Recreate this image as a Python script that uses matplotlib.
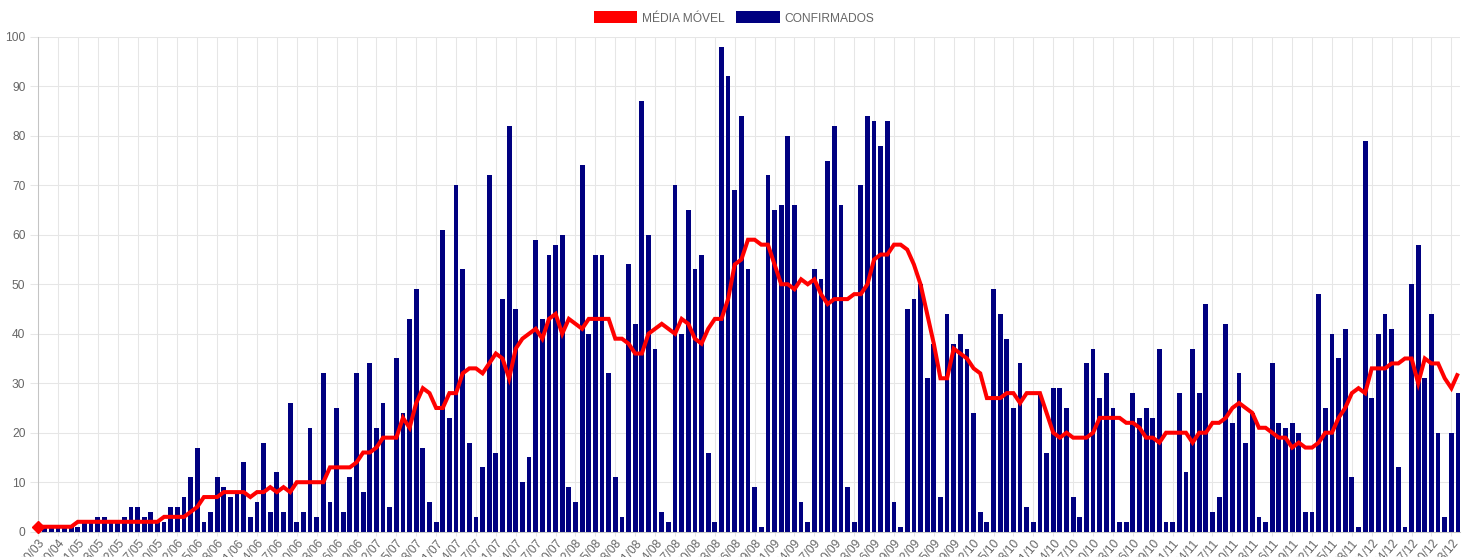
import matplotlib

matplotlib.use("Agg")
import matplotlib.pyplot as plt
from matplotlib.patches import Patch

# confirmed cases per day (one value per category, left to right)
confirmados = [
    1, 1, 1, 1, 1, 1, 1, 2, 2, 3,
    3, 2, 2, 3, 5, 5, 3, 4, 2, 2,
    5, 5, 7, 11, 17, 2, 4, 11, 9, 7,
    8, 14, 3, 6, 18, 4, 12, 4, 26, 2,
    4, 21, 3, 32, 6, 25, 4, 11, 32, 8,
    34, 21, 26, 5, 35, 24, 43, 49, 17, 6,
    2, 61, 23, 70, 53, 18, 3, 13, 72, 16,
    47, 82, 45, 10, 15, 59, 43, 56, 58, 60,
    9, 6, 74, 40, 56, 56, 32, 11, 3, 54,
    42, 87, 60, 37, 4, 2, 70, 40, 65, 53,
    56, 16, 2, 98, 92, 69, 84, 53, 9, 1,
    72, 65, 66, 80, 66, 6, 2, 53, 51, 75,
    82, 66, 9, 2, 70, 84, 83, 78, 83, 6,
    1, 45, 47, 50, 31, 38, 7, 44, 38, 40,
    37, 24, 4, 2, 49, 44, 39, 25, 34, 5,
    2, 28, 16, 29, 29, 25, 7, 3, 34, 37,
    27, 32, 25, 2, 2, 28, 23, 25, 23, 37,
    2, 2, 28, 12, 37, 28, 46, 4, 7, 42,
    22, 32, 18, 24, 3, 2, 34, 22, 21, 22,
    20, 4, 4, 48, 25, 40, 35, 41, 11, 1,
    79, 27, 40, 44, 41, 13, 1, 50, 58, 31,
    44, 20, 3, 20, 28,
]

# moving average, same categories
media_movel = [
    1, 1, 1, 1, 1, 1, 2, 2, 2, 2,
    2, 2, 2, 2, 2, 2, 2, 2, 2, 3,
    3, 3, 3, 4, 5, 7, 7, 7, 8, 8,
    8, 8, 7, 8, 8, 9, 8, 9, 8, 10,
    10, 10, 10, 10, 13, 13, 13, 13, 14, 16,
    16, 17, 19, 19, 19, 23, 21, 26, 29, 28,
    25, 25, 28, 28, 32, 33, 33, 32, 34, 36,
    35, 31, 37, 39, 40, 41, 39, 43, 44, 40,
    43, 42, 41, 43, 43, 43, 43, 39, 39, 38,
    36, 36, 40, 41, 42, 41, 40, 43, 42, 39,
    38, 41, 43, 43, 47, 54, 55, 59, 59, 58,
    58, 54, 50, 50, 49, 51, 50, 51, 48, 46,
    47, 47, 47, 48, 48, 50, 55, 56, 56, 58,
    58, 57, 54, 50, 44, 38, 31, 31, 37, 36,
    35, 33, 32, 27, 27, 27, 28, 28, 26, 28,
    28, 28, 24, 20, 19, 20, 19, 19, 19, 20,
    23, 23, 23, 23, 22, 22, 21, 19, 19, 18,
    20, 20, 20, 20, 18, 20, 20, 22, 22, 23,
    25, 26, 25, 24, 21, 21, 20, 19, 19, 17,
    18, 17, 17, 18, 20, 20, 23, 25, 28, 29,
    28, 33, 33, 33, 34, 34, 35, 35, 30, 35,
    34, 34, 31, 29, 32,
]

# labels shown on the x axis (every third category)
tick_labels = [
    "30/03", "20/04", "01/05", "13/05", "22/05", "27/05", "30/05", "02/06",
    "05/06", "08/06", "11/06", "14/06", "17/06", "20/06", "23/06", "26/06",
    "29/06", "02/07", "05/07", "08/07", "11/07", "14/07", "17/07", "21/07",
    "24/07", "27/07", "30/07", "02/08", "05/08", "08/08", "11/08", "14/08",
    "17/08", "20/08", "23/08", "26/08", "29/08", "01/09", "04/09", "07/09",
    "10/09", "13/09", "16/09", "19/09", "22/09", "25/09", "29/09", "02/10",
    "05/10", "08/10", "11/10", "14/10", "17/10", "20/10", "23/10", "26/10",
    "29/10", "01/11", "04/11", "07/11", "10/11", "13/11", "16/11", "19/11",
    "22/11", "25/11", "28/11", "01/12", "04/12", "07/12", "10/12", "13/12",
]
TICK_STEP = 3

W, H = 1470, 557
FS = 8.64  # 12 px
GREY = "#666666"
GRID = "#e6e6e6"
RED = "#ff0000"


def main():
    plt.rcParams["font.family"] = ["Liberation Sans", "DejaVu Sans"]

    fig = plt.figure(figsize=(W / 100, H / 100), dpi=100)
    ax = fig.add_axes([38 / W, 25.3 / H, 1422 / W, 494.9 / H])

    xs = list(range(len(confirmados)))
    ax.bar(xs, confirmados, width=0.72, color="#000080", zorder=2)
    ax.plot(xs, media_movel, color=RED, lw=2.9, solid_joinstyle="miter",
            solid_capstyle="butt", zorder=3)
    # point marker visible at the start of the line
    ax.plot(xs[:1], media_movel[:1], ls="none", marker="D", ms=6.5,
            color=RED, zorder=4, clip_on=False)

    ax.set_xlim(0, 214.3)
    ax.set_ylim(0, 100)
    ax.set_yticks(range(0, 101, 10))
    ticks = list(range(0, len(confirmados), TICK_STEP))[: len(tick_labels)]
    ax.set_xticks(ticks)
    ax.set_xticklabels(tick_labels, rotation=50, ha="right", va="top",
                       rotation_mode="anchor")

    ax.set_axisbelow(True)
    ax.grid(True, color=GRID, lw=0.75)
    ax.tick_params(axis="both", colors=GRID, labelcolor=GREY, labelsize=FS,
                   width=0.75)
    ax.tick_params(axis="x", length=3, pad=1)
    ax.tick_params(axis="y", length=6, pad=3)
    for s in ["top", "right"]:
        ax.spines[s].set_visible(False)
    for s in ["left", "bottom"]:
        ax.spines[s].set_color("#c4c4c4")
        ax.spines[s].set_linewidth(0.75)

    handles = [Patch(facecolor=RED, label="MÉDIA MÓVEL"),
               Patch(facecolor="#000080", label="CONFIRMADOS")]
    fig.legend(handles=handles, loc="center", bbox_to_anchor=(0.4993, 1 - 18 / H),
               ncol=2, frameon=False, fontsize=FS, labelcolor=GREY,
               handlelength=3.6, handleheight=1.15, handletextpad=0.4,
               columnspacing=1.0, borderpad=0)

    fig.savefig("out.png", dpi=100)
    plt.close(fig)


if __name__ == "__main__":
    main()
